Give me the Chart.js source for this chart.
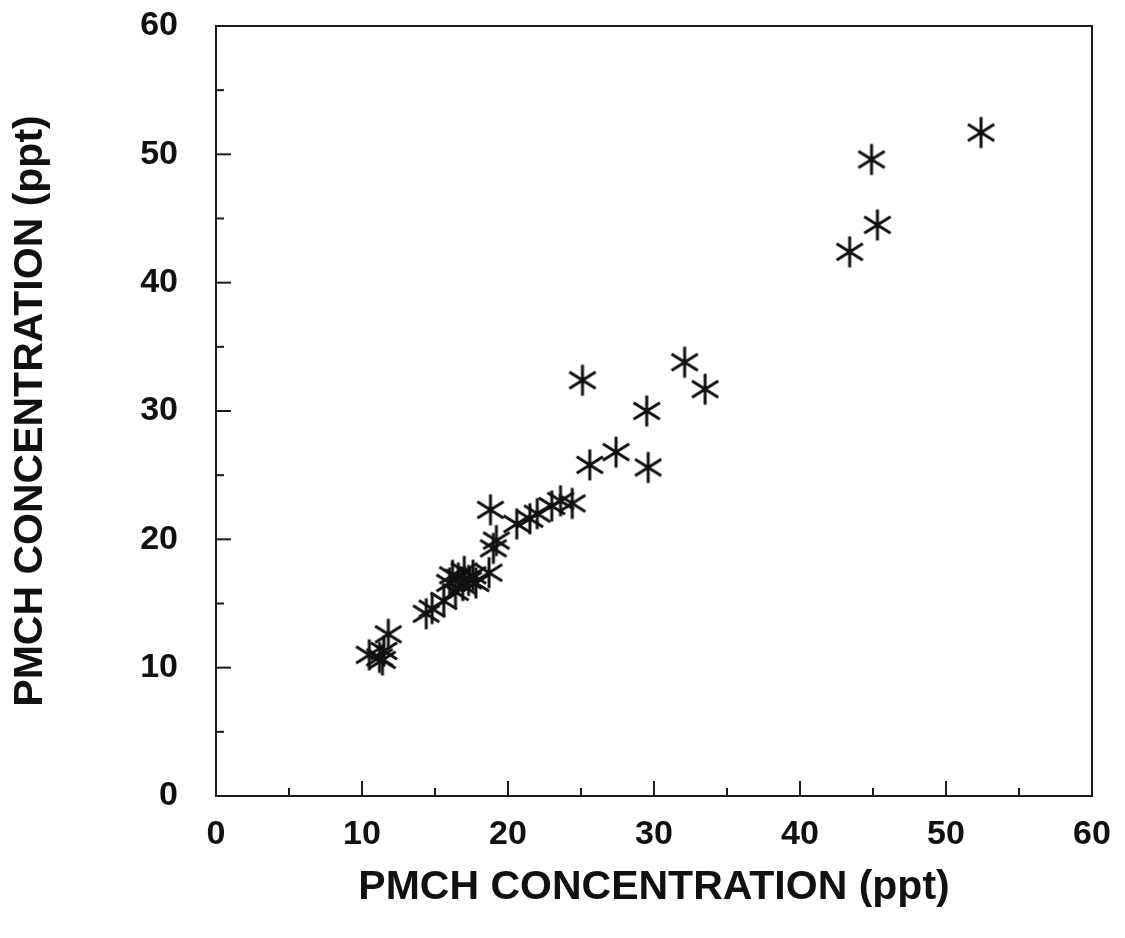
<!DOCTYPE html>
<html>
<head>
<meta charset="utf-8">
<script src="https://cdn.jsdelivr.net/npm/chart.js@4.4.1/dist/chart.umd.min.js"></script>
<style>
  html, body { margin: 0; padding: 0; background: #ffffff; }
  #wrap { width: 1125px; height: 938px; }
</style>
</head>
<body>
<div id="wrap"><canvas id="c" width="1125" height="938"></canvas></div>
<script>
// ---- data ----
const xValues = [10.5, 11.2, 11.5, 11.8, 11.4,
                 14.4, 14.8, 15.6,
                 16.0, 16.2, 16.6, 16.9, 17.0, 17.3, 17.6, 17.8, 16.4,
                 18.7, 19.0, 19.2, 18.8,
                 20.6, 21.5, 22.0, 23.0, 23.6, 24.4,
                 25.1, 25.6, 27.4, 29.5, 29.6, 32.1, 33.5,
                 43.4, 45.3, 44.9, 52.4];
const yValues = [11.0, 10.8, 11.3, 12.6, 10.6,
                 14.2, 14.6, 15.2,
                 16.6, 17.2, 17.0, 16.4, 17.5, 16.8, 17.2, 16.6, 15.9,
                 17.4, 19.3, 19.9, 22.3,
                 21.2, 21.6, 22.0, 22.6, 23.0, 22.8,
                 32.4, 25.8, 26.8, 30.0, 25.6, 33.8, 31.7,
                 42.4, 44.5, 49.6, 51.7];
const tickValues = [0, 10, 20, 30, 40, 50, 60];
const tickLabels = ['0', '10', '20', '30', '40', '50', '60'];
const xTitle = 'PMCH CONCENTRATION (ppt)';
const yTitle = 'PMCH CONCENTRATION (ppt)';

const points = xValues.map((x, i) => ({ x: x, y: yValues[i] }));

// asterisk marker (vertical stroke + two diagonals)
function makeAsterisk() {
  const s = 34, c = document.createElement('canvas');
  c.width = s; c.height = s;
  const g = c.getContext('2d');
  g.strokeStyle = '#111';
  g.lineWidth = 3;
  g.lineCap = 'butt';
  const cx = s / 2, cy = s / 2, r = 15.5, rd = 15.5;
  g.beginPath();
  g.moveTo(cx, cy - r); g.lineTo(cx, cy + r);
  const a = 32 * Math.PI / 180;
  g.moveTo(cx - rd * Math.cos(a), cy - rd * Math.sin(a)); g.lineTo(cx + rd * Math.cos(a), cy + rd * Math.sin(a));
  g.moveTo(cx - rd * Math.cos(a), cy + rd * Math.sin(a)); g.lineTo(cx + rd * Math.cos(a), cy - rd * Math.sin(a));
  g.stroke();
  return c;
}
const asterisk = makeAsterisk();

const frameAndTicks = {
  id: 'frameAndTicks',
  afterDraw(chart) {
    const { ctx, chartArea: a, scales } = chart;
    ctx.save();
    ctx.strokeStyle = '#1a1a1a';
    ctx.lineWidth = 2;
    ctx.strokeRect(a.left, a.top, a.right - a.left, a.bottom - a.top);
    for (let v = 0; v <= 60; v += 5) {
      const len = (v % 10 === 0) ? 15 : 8;
      const px = scales.x.getPixelForValue(v);
      ctx.beginPath(); ctx.moveTo(px, a.bottom); ctx.lineTo(px, a.bottom - len); ctx.stroke();
      const py = scales.y.getPixelForValue(v);
      ctx.beginPath(); ctx.moveTo(a.left, py); ctx.lineTo(a.left + len, py); ctx.stroke();
    }
    ctx.restore();
  }
};

const tickFont = { family: 'Liberation Sans, Arial, sans-serif', size: 34, weight: 'bold', lineHeight: 1.2 };
const titleFont = { family: 'Liberation Sans, Arial, sans-serif', size: 41, weight: 'bold', lineHeight: 1.2 };

new Chart(document.getElementById('c'), {
  type: 'scatter',
  data: {
    datasets: [{
      data: points,
      pointStyle: asterisk,
      pointRadius: 15,
      pointHoverRadius: 15,
      borderColor: '#111',
      backgroundColor: '#111'
    }]
  },
  options: {
    responsive: false,
    animation: false,
    layout: { padding: { left: 0, top: 26, right: 33, bottom: 0 } },
    plugins: { legend: { display: false }, tooltip: { enabled: false } },
    scales: {
      x: {
        type: 'linear', min: 0, max: 60,
        afterBuildTicks(s) { s.ticks = tickValues.map(v => ({ value: v })); },
        afterFit(s) { s.height = 142; s.paddingLeft = 0; s.paddingRight = 0; },
        grid: { display: false, drawTicks: false },
        border: { display: false },
        ticks: {
          color: '#111', font: tickFont, padding: 18, maxRotation: 0,
          callback: (v) => tickLabels[tickValues.indexOf(v)]
        },
        title: { display: true, text: xTitle, color: '#111', font: titleFont, padding: { top: 0, bottom: 26 } }
      },
      y: {
        type: 'linear', min: 0, max: 60,
        afterBuildTicks(s) { s.ticks = tickValues.map(v => ({ value: v })); },
        afterFit(s) { s.width = 216; s.paddingTop = 0; s.paddingBottom = 0; },
        grid: { display: false, drawTicks: false },
        border: { display: false },
        ticks: {
          color: '#111', font: tickFont, padding: 38,
          callback: (v) => tickLabels[tickValues.indexOf(v)]
        },
        title: { display: true, text: yTitle, color: '#111', font: titleFont, padding: { top: 6, bottom: 0 } }
      }
    }
  },
  plugins: [frameAndTicks]
});
</script>
</body>
</html>
